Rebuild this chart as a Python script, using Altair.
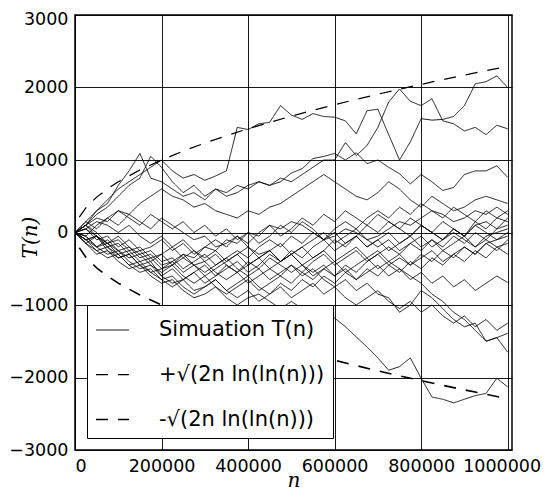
import altair as alt
import pandas as pd

# ---- data ----
n_walk = list(range(0, 1_000_001, 25_000))  # sample positions of every simulated walk

walks = {
    "w01": [0,150,300,450,600,700,800,900,1000,850,750,800,720,780,850,1450,1420,1500,1520,1750,1620,1560,1640,1600,1590,1540,1360,1680,1700,1350,1000,1250,1570,1550,1560,1600,1750,2050,2080,2160,2000],
    "w02": [0,100,250,350,500,650,750,1050,900,700,550,650,500,600,550,650,600,700,650,750,700,800,900,1000,1000,1240,1060,1200,1450,1800,1980,1810,1750,1845,1540,1500,1400,1450,1350,1480,1430],
    "w03": [0,100,300,400,650,850,1090,750,700,600,500,550,450,600,500,550,650,700,650,700,820,880,1020,1050,1090,1000,1100,950,1000,900,810,670,800,700,580,620,800,850,850,920,760],
    "w04": [0,-50,100,200,300,250,400,500,600,500,450,350,400,300,250,200,300,250,350,400,500,600,700,800,700,600,500,450,550,700,600,450,350,500,400,300,350,450,500,450,400],
    "w05": [0,-100,-200,-150,-300,-250,-400,-350,-500,-450,-300,-350,-200,-250,-100,-150,0,-50,100,50,150,100,0,-100,-50,50,0,-100,-50,50,150,100,200,300,250,150,200,300,250,350,250],
    "w06": [0,150,50,200,100,250,150,50,200,100,0,-100,-50,-200,-150,-50,-200,-300,-250,-400,-300,-200,-350,-250,-100,-200,-50,100,0,150,50,-50,100,0,-100,50,-50,100,150,50,200],
    "w07": [0,-150,-50,-250,-350,-300,-450,-400,-600,-500,-650,-550,-450,-600,-500,-400,-550,-450,-300,-400,-250,-350,-200,-100,-250,-150,-50,-200,-100,0,-150,-50,100,0,-100,50,-50,150,50,200,150],
    "w08": [0,100,-50,-150,-100,-250,-200,-350,-300,-200,-350,-450,-400,-550,-650,-550,-700,-600,-500,-600,-450,-550,-400,-300,-450,-350,-250,-400,-300,-200,-300,-150,-250,-100,-200,-50,-150,0,-100,50,100],
    "w09": [0,50,150,100,0,100,-50,-150,-50,-200,-100,-250,-350,-250,-400,-300,-200,-350,-250,-150,-300,-200,-100,0,-150,-50,50,-100,-200,-100,-250,-150,-50,-200,-100,0,-100,-200,-50,0,50],
    "w10": [0,-100,-250,-350,-300,-450,-550,-500,-650,-750,-650,-550,-700,-600,-450,-550,-400,-500,-350,-450,-550,-450,-600,-500,-400,-550,-450,-350,-500,-400,-300,-450,-350,-250,-400,-300,-200,-300,-150,-100,0],
    "w11": [0,50,-100,-50,-200,-100,-250,-200,-100,-250,-150,-300,-200,-100,-200,-50,-150,0,100,-50,50,200,100,250,150,300,200,100,250,150,50,200,100,0,150,50,-50,100,0,-100,-50],
    "w12": [0,-50,-200,-100,-250,-350,-300,-450,-550,-450,-600,-700,-600,-750,-850,-750,-650,-800,-700,-600,-700,-550,-650,-500,-600,-450,-550,-400,-300,-450,-350,-450,-300,-400,-250,-350,-200,-300,-150,-250,-100],
    "w13": [0,100,200,150,300,200,100,250,150,50,150,0,100,-50,50,-100,0,-150,-50,100,0,150,50,-100,0,-150,-50,-200,-100,-250,-150,-50,-200,-100,-250,-150,-50,-200,-100,-200,-150],
    "w14": [0,-100,-50,-200,-300,-450,-400,-550,-650,-600,-750,-850,-750,-650,-800,-900,-800,-950,-850,-700,-800,-650,-750,-600,-700,-550,-650,-500,-600,-450,-550,-400,-500,-350,-450,-300,-400,-250,-350,-200,-300],
    "w15": [0,50,-50,-150,-250,-200,-350,-300,-450,-400,-300,-450,-550,-450,-350,-250,-350,-200,-100,-200,-50,-150,0,-100,50,150,50,200,300,200,350,250,400,300,200,350,250,150,300,200,300],
    "w16": [0,-150,-250,-200,-350,-300,-450,-550,-500,-400,-550,-450,-600,-500,-400,-300,-450,-350,-250,-400,-300,-450,-550,-450,-600,-500,-650,-550,-450,-600,-500,-650,-550,-700,-600,-750,-650,-800,-700,-600,-690],
    "w17": [0,-50,-200,-300,-250,-400,-500,-450,-600,-700,-650,-800,-750,-650,-800,-700,-600,-750,-850,-750,-900,-800,-700,-850,-750,-900,-1000,-900,-800,-950,-1050,-950,-1100,-1000,-1150,-1250,-1150,-1300,-1200,-1350,-1250],
    "w18": [0,100,0,-150,-50,-200,-300,-250,-400,-350,-500,-400,-300,-450,-350,-500,-600,-500,-650,-550,-450,-600,-500,-650,-750,-650,-800,-700,-850,-900,-1100,-1000,-800,-900,-1050,-1200,-1300,-1250,-1500,-1450,-1390],
    "w19": [0,-100,-50,-200,-150,-300,-250,-400,-300,-450,-350,-250,-400,-300,-450,-550,-450,-350,-500,-400,-300,-450,-350,-250,-400,-300,-200,-350,-250,-400,-500,-600,-700,-850,-950,-1100,-1200,-1350,-1500,-1450,-1650],
    "w20": [0,-150,-300,-250,-400,-500,-450,-600,-700,-650,-800,-900,-850,-750,-900,-1000,-900,-850,-950,-1050,-950,-1050,-1150,-1100,-1180,-1300,-1440,-1580,-1730,-1900,-1850,-1730,-2010,-2270,-2300,-2350,-2300,-2250,-2220,-2010,-2130],
}

n_bound = [10000, 25000, 50000, 75000, 100000, 150000, 200000, 250000, 300000, 350000, 400000,
           450000, 500000, 550000, 600000, 650000, 700000, 750000, 800000, 850000, 900000,
           950000, 1000000]
upper_bound = [210.7, 340.2, 488.0, 602.3, 699.1, 862.2, 1000.4, 1122.5, 1233.2, 1335.2, 1430.3,
               1519.8, 1604.5, 1685.2, 1762.3, 1836.4, 1907.8, 1976.7, 2043.3, 2108.0, 2170.8,
               2232.0, 2291.6]
lower_bound = [-210.7, -340.2, -488.0, -602.3, -699.1, -862.2, -1000.4, -1122.5, -1233.2, -1335.2, -1430.3,
               -1519.8, -1604.5, -1685.2, -1762.3, -1836.4, -1907.8, -1976.7, -2043.3, -2108.0, -2170.8,
               -2232.0, -2291.6]

x_ticks = [0, 200000, 400000, 600000, 800000, 1000000]
y_ticks = [-3000, -2000, -1000, 0, 1000, 2000, 3000]

SIM = "Simuation T(n)"
UP = "+\u221a(2n ln(ln(n)))"
LO = "-\u221a(2n ln(ln(n)))"

rows = []
for name, vals in walks.items():
    for n, t in zip(n_walk, vals):
        rows.append({"n": n, "T": t, "walk": name, "series": SIM})
for n, t in zip(n_bound, upper_bound):
    rows.append({"n": n, "T": t, "walk": "zup", "series": UP})
for n, t in zip(n_bound, lower_bound):
    rows.append({"n": n, "T": t, "walk": "zlo", "series": LO})
df = pd.DataFrame(rows)

chart = alt.Chart(df).mark_line(color="black", clip=True).encode(
    x=alt.X("n:Q",
            scale=alt.Scale(domain=[0, 1010000], nice=False, zero=False),
            axis=alt.Axis(values=x_ticks, format="d", title="n", labelPadding=7,
                          labelOffset={"condition": {"test": "datum.value >= 1000000", "value": -6},
                                       "value": 0},
                          titleY=40, titleBaseline="bottom")),
    y=alt.Y("T:Q",
            scale=alt.Scale(domain=[-3000, 3000], nice=False),
            axis=alt.Axis(values=y_ticks, format="d", title="T(n)", labelPadding=7,
                          labelOffset={"condition": {"test": "datum.value >= 3000", "value": 4},
                                       "value": 0},
                          titleX=-45, titleY=222, titleAngle=270, titleAlign="center",
                          titleBaseline="middle")),
    detail="walk:N",
    strokeDash=alt.StrokeDash(
        "series:N",
        scale=alt.Scale(domain=[SIM, UP, LO], range=[[1, 0], [12, 10], [12, 10]]),
        legend=alt.Legend(title=None, orient="none", legendX=12, legendY=290,
                          symbolType="stroke", symbolSize=1089, symbolStrokeWidth=1.3,
                          symbolStrokeColor="black", labelFont="DejaVu Sans",
                          labelFontSize=21, labelColor="black", labelLimit=400,
                          labelOffset=29, rowPadding=17, padding=8,
                          strokeColor="black", fillColor="white", cornerRadius=0,
                          zindex=1)),
    strokeWidth=alt.StrokeWidth(
        "series:N",
        scale=alt.Scale(domain=[SIM, UP, LO], range=[0.9, 1.6, 1.6]),
        legend=None),
).properties(
    width=437, height=435,
    autosize=alt.AutoSizeParams(type="none"),
    padding={"left": 67, "top": 7, "right": 30, "bottom": 40},
).configure_axis(
    grid=True, gridColor="black", gridWidth=1, gridOpacity=0.9,
    domain=False, ticks=False,
    labelFont="DejaVu Sans", labelFontSize=17.5, labelColor="black",
    titleFont="DejaVu Serif", titleFontStyle="italic", titleFontWeight="normal",
    titleFontSize=20, titleColor="black",
).configure_view(stroke="black", strokeWidth=1.5)

chart.save("out.html", embed_options={"renderer": "svg", "actions": False})
